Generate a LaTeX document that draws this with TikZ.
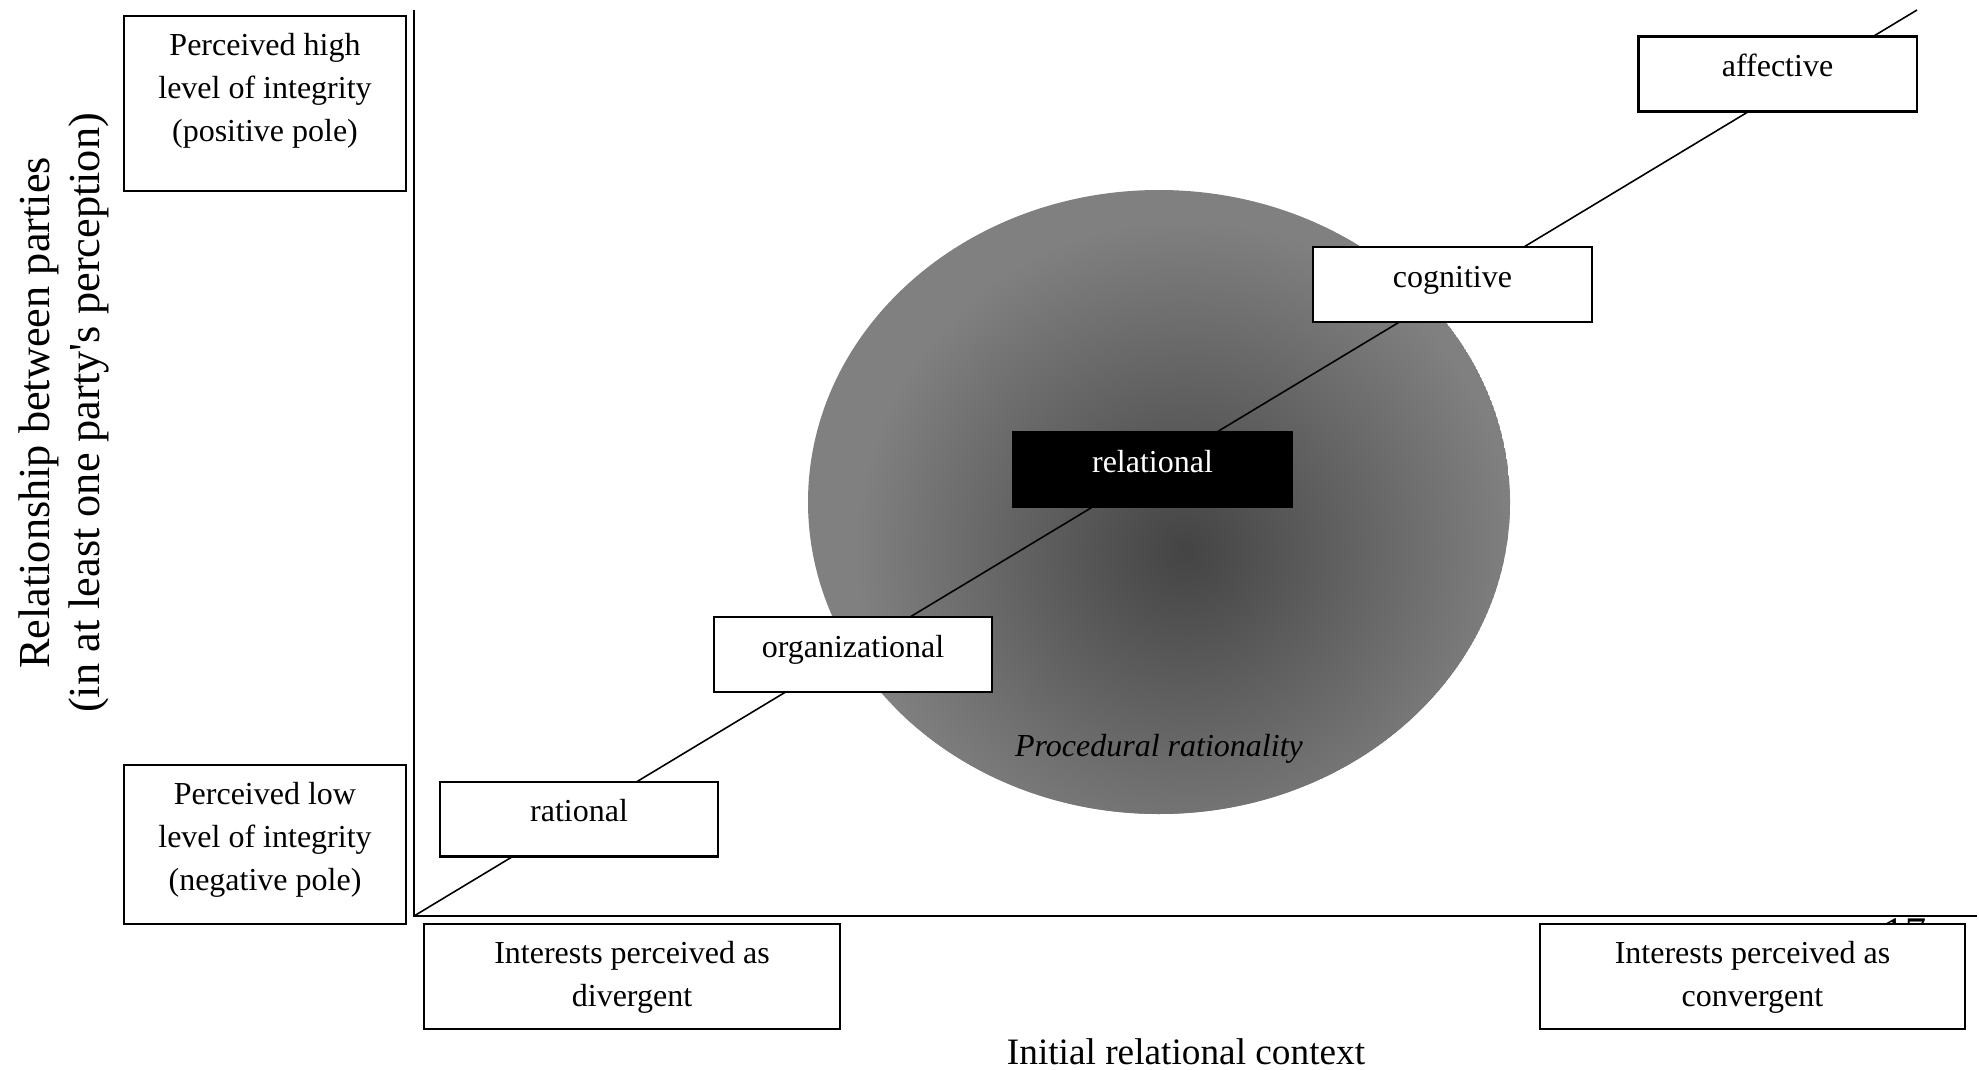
\documentclass[tikz,border=0pt]{standalone}
\usepackage{fontspec}
\setmainfont{Liberation Serif}
\usetikzlibrary{positioning}
\definecolor{coregray}{RGB}{68,68,68}
\definecolor{rimgray}{RGB}{128,128,128}

\begin{document}
\begin{tikzpicture}[x=0.01cm,y=-0.01cm,
  every node/.style={font=\fontsize{9.1}{12.2}\selectfont},
  box/.style={draw,fill=white,line width=0.6pt,inner sep=0pt},
  stage/.style={box,minimum width=2.78cm,text height=11.4pt,text depth=9.9pt},
  txt/.style={inner sep=0pt,align=center}
]
\useasboundingbox (0,0) rectangle (1979,1070);

% procedural rationality area
\begin{scope}
  \clip (1159,502) ellipse [x radius=351,y radius=312];
  \fill[rimgray] (1159,502) ellipse [x radius=351,y radius=312];
  \shade[inner color=coregray,outer color=rimgray] (1185,550) circle [radius=330];
\end{scope}
\node[txt,font=\fontsize{9.1}{12.2}\selectfont\itshape] (proc) at (1159,749) {Procedural rationality};

% axes and diagonal
\coordinate (o) at (414,916);
\coordinate (ytop) at (414,10);
\coordinate (xend) at (1977,916);
\coordinate (dend) at (1917,10);
\draw[line width=0.6pt] (ytop) -- (o) -- (xend);
\draw[line width=0.45pt] (o) -- (dend);

% page number, mostly hidden
\node[txt,font=\fontsize{12}{14}\selectfont] (pnum) at (1905,933) {17};

% poles
\node[box,minimum width=2.82cm,minimum height=1.75cm] (high) at (265,103.5) {};
\node[txt,below=0.18cm of high.north] (hight) {Perceived high\\level of integrity\\(positive pole)};
\node[box,minimum width=2.82cm,minimum height=1.59cm] (low) at (265,844.5) {};
\node[txt,below=0.18cm of low.north] (lowt) {Perceived low\\level of integrity\\(negative pole)};
\node[box,minimum width=4.16cm,minimum height=1.05cm] (div) at (632,976.5) {};
\node[txt,below=0.18cm of div.north] (divt) {Interests perceived as\\divergent};
\node[box,minimum width=4.25cm,minimum height=1.05cm] (conv) at (1752.5,976.5) {};
\node[txt,below=0.18cm of conv.north] (convt) {Interests perceived as\\convergent};

% stages
\node[stage] (rat) at (579,819) {rational};
\node[stage] (org) at (853,654.5) {organizational};
\node[stage,fill=black,text=white] (rel) at (1152.5,469.5) {relational};
\node[stage] (cog) at (1452.5,284.5) {cognitive};
\node[stage] (aff) at (1777.5,74) {affective};

% axis titles
\node[txt,rotate=90,font=\fontsize{12.6}{14.4}\selectfont] (ylab) at (64,413) {Relationship between parties\\(in at least one party\textquotesingle s perception)};
\node[txt,font=\fontsize{10.6}{12.6}\selectfont] (xlab) at (1186,1052) {Initial relational context};
\end{tikzpicture}
\end{document}
